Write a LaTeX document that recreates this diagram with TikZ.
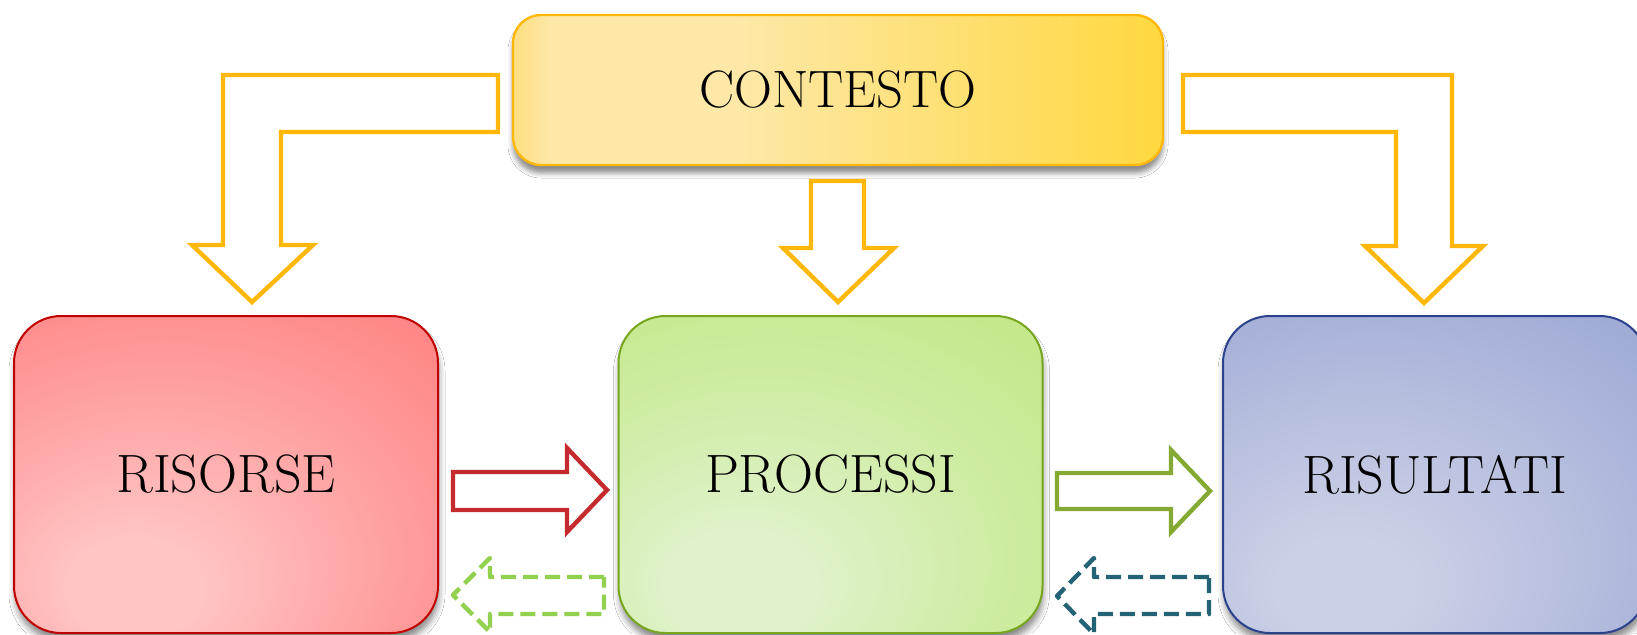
\documentclass[tikz,border=0pt]{standalone}
\usetikzlibrary{shadows.blur}
\definecolor{yelline}{RGB}{255,184,10}
\definecolor{yelA}{RGB}{254,222,128}
\definecolor{yelB}{RGB}{253,232,168}
\definecolor{yelC}{RGB}{255,216,64}
\definecolor{redA}{RGB}{255,196,196}
\definecolor{redB}{RGB}{255,162,162}
\definecolor{redC}{RGB}{255,106,106}
\definecolor{grnA}{RGB}{224,242,204}
\definecolor{grnB}{RGB}{208,236,166}
\definecolor{grnC}{RGB}{184,228,110}
\definecolor{bluA}{RGB}{204,208,230}
\definecolor{bluB}{RGB}{182,190,222}
\definecolor{bluC}{RGB}{138,152,206}
\definecolor{redline}{RGB}{192,0,0}
\definecolor{grnline}{RGB}{118,166,30}
\definecolor{bluline}{RGB}{44,66,140}
\definecolor{redarrow}{RGB}{196,42,46}
\definecolor{grnarrow}{RGB}{132,170,52}
\definecolor{ltgrn}{RGB}{146,208,80}
\definecolor{teal}{RGB}{36,98,118}
\pgfdeclarehorizontalshading{yelsh}{100bp}{color(0bp)=(yelA); color(25bp)=(yelA); color(28bp)=(yelB); color(42bp)=(yelB); color(75bp)=(yelC); color(100bp)=(yelC)}
\pgfdeclareradialshading{redsh}{\pgfpoint{-12bp}{-20bp}}{color(0bp)=(redA); color(8bp)=(redA); color(26bp)=(redB); color(60bp)=(redC); color(80bp)=(redC)}
\pgfdeclareradialshading{grnsh}{\pgfpoint{-12bp}{-20bp}}{color(0bp)=(grnA); color(8bp)=(grnA); color(26bp)=(grnB); color(60bp)=(grnC); color(80bp)=(grnC)}
\pgfdeclareradialshading{blush}{\pgfpoint{-12bp}{-20bp}}{color(0bp)=(bluA); color(8bp)=(bluA); color(26bp)=(bluB); color(60bp)=(bluC); color(80bp)=(bluC)}
\tikzset{
  boxstyle/.style={shade, rounded corners=23.5pt, minimum width=212pt, minimum height=158.5pt,
    line width=1pt, inner sep=0pt, font=\fontsize{27}{32}\selectfont,
    blur shadow={shadow xshift=0.5pt, shadow yshift=-4pt, shadow blur radius=3pt, shadow opacity=45}},
  ctxstyle/.style={shade, shading=yelsh, draw=yelline, rounded corners=14pt, minimum width=325pt,
    minimum height=75pt, line width=1.2pt, inner sep=0pt, font=\fontsize{26.3}{31}\selectfont,
    blur shadow={shadow xshift=0pt, shadow yshift=-4pt, shadow blur radius=2.5pt, shadow opacity=45}},
  yelarrow/.style={draw=yelline, line width=2.2pt, fill=white},
  solidarrow/.style={line width=2.2pt, fill=white},
  dasharrow/.style={line width=2.2pt, dash pattern=on 7.5pt off 3.5pt, line join=round}
}
\begin{document}
\begin{tikzpicture}[x=0.5pt, y=-0.5pt]
\clip (0,0) rectangle (1637,634);
\fill[white] (0,0) rectangle (1637,634);
% bent and straight context arrows
\draw[yelarrow] (498,75) -- (223,75) -- (223,245) -- (192,245) -- (252,302) -- (313,245)
  -- (281,245) -- (281,132) -- (498,132) -- cycle;
\draw[yelarrow] (1183,75) -- (1452,75) -- (1452,246) -- (1483,246) -- (1424,303) -- (1365,246)
  -- (1396,246) -- (1396,132) -- (1183,132) -- cycle;
\draw[yelarrow] (811,181) -- (864,181) -- (864,248) -- (894,248) -- (838,302) -- (783,248)
  -- (811,248) -- cycle;
% boxes
\node[ctxstyle] (ctx) at (838,90) {CONTESTO};
\node[boxstyle, shading=redsh, draw=redline] (ris) at (226,474.5) {RISORSE};
\node[boxstyle, shading=grnsh, draw=grnline] (pro) at (830.5,474.5) {PROCESSI};
\node[boxstyle, shading=blush, draw=bluline] (rsl) at (1435,474.5) {RISULTATI};
% forward arrows
\draw[solidarrow, draw=redarrow] (453,472) -- (567,472) -- (567,448) -- (607,490) -- (567,532)
  -- (567,510) -- (453,510) -- cycle;
\draw[solidarrow, draw=grnarrow] (1057,473) -- (1171,473) -- (1171,450) -- (1210,491) -- (1171,532)
  -- (1171,509) -- (1057,509) -- cycle;
% feedback arrows
\draw[dasharrow, draw=ltgrn] (604,577) -- (490,577) -- (490,558) -- (453,595) -- (490,632)
  -- (490,614) -- (604,614) -- cycle;
\draw[dasharrow, draw=teal] (1209,577) -- (1094,577) -- (1094,558) -- (1057,596) -- (1094,634)
  -- (1094,614) -- (1209,614) -- cycle;
\end{tikzpicture}
\end{document}
